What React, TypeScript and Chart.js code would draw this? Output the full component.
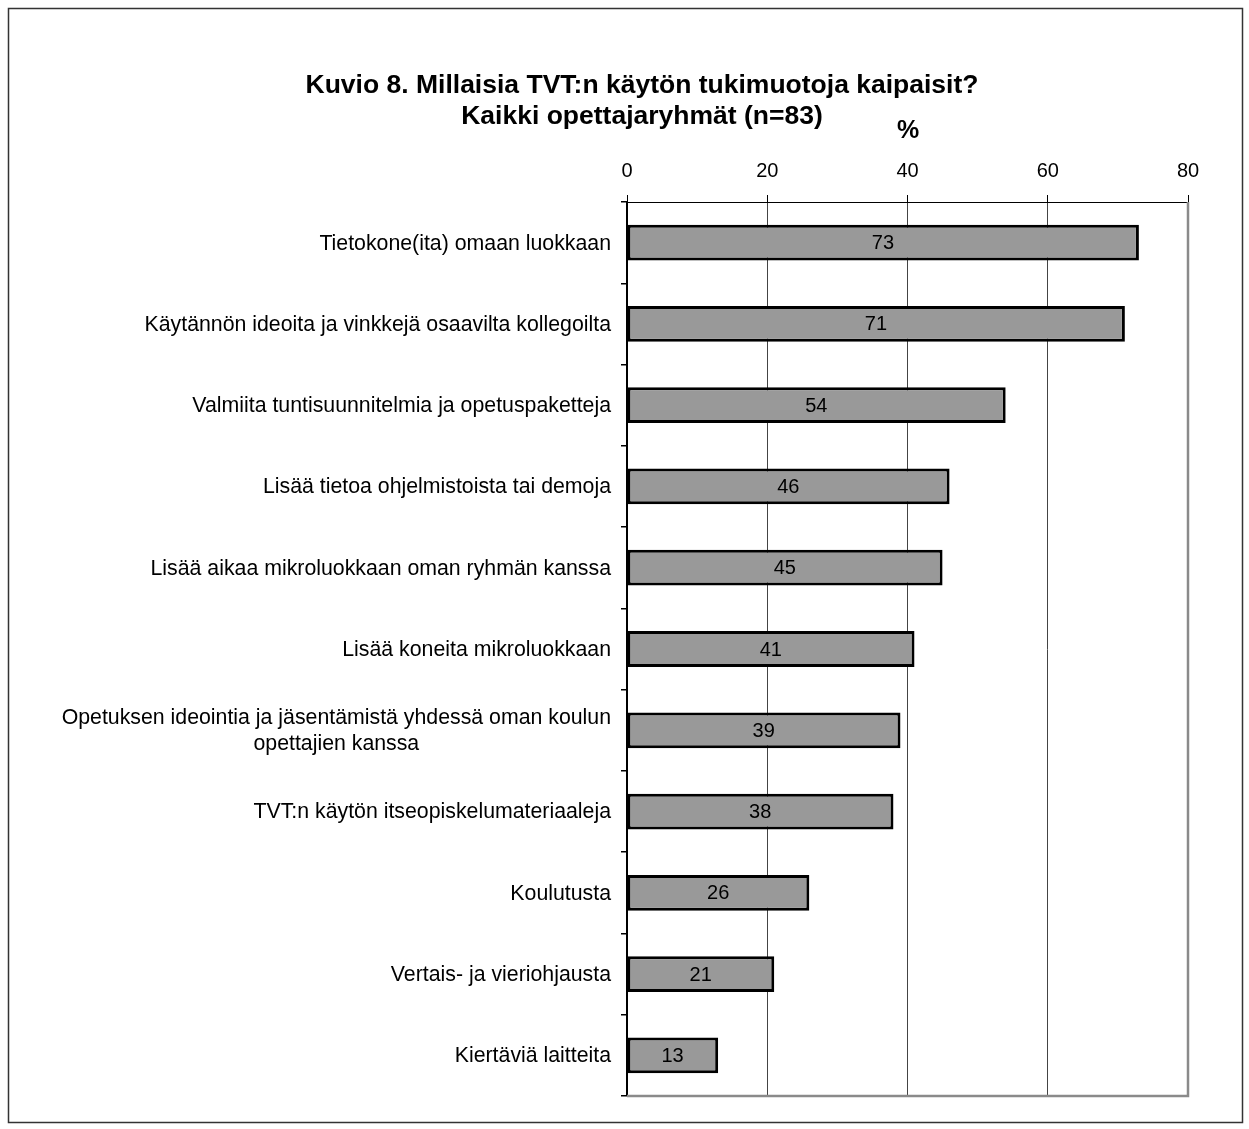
import React, { useEffect, useRef } from 'react';
import { Chart, registerables } from 'chart.js';

Chart.register(...registerables);

const categories: (string | string[])[] = [
  'Tietokone(ita) omaan luokkaan',
  'Käytännön ideoita ja vinkkejä osaavilta kollegoilta',
  'Valmiita tuntisuunnitelmia ja opetuspaketteja',
  'Lisää tietoa ohjelmistoista tai demoja',
  'Lisää aikaa mikroluokkaan oman ryhmän kanssa',
  'Lisää koneita mikroluokkaan',
  ['Opetuksen ideointia ja jäsentämistä yhdessä oman koulun', 'opettajien kanssa'],
  'TVT:n käytön itseopiskelumateriaaleja',
  'Koulutusta',
  'Vertais- ja vieriohjausta',
  'Kiertäviä laitteita',
];

const values: number[] = [73, 71, 54, 46, 45, 41, 39, 38, 26, 21, 13];

const xTicks: number[] = [0, 20, 40, 60, 80];

const titleLines: string[] = [
  'Kuvio 8. Millaisia TVT:n käytön tukimuotoja kaipaisit?',
  'Kaikki opettajaryhmät (n=83)',
];

const axisTitle = '%';

const FONT = "'Liberation Sans', Arial, Helvetica, sans-serif";

export default function App() {
  const ref = useRef<HTMLCanvasElement>(null);

  useEffect(() => {
    const canvas = ref.current;
    if (!canvas) return;

    const decor = {
      id: 'decor',
      afterDatasetsDraw(chart: any) {
        const { ctx, chartArea: a, scales } = chart;
        const x = scales.x;
        const y = scales.y;
        ctx.save();
        // plot frame (right & bottom)
        ctx.strokeStyle = '#8a8a8a';
        ctx.lineWidth = 2.5;
        ctx.beginPath();
        ctx.moveTo(a.left, a.bottom);
        ctx.lineTo(a.right, a.bottom);
        ctx.lineTo(a.right, a.top);
        ctx.stroke();
        // value labels
        ctx.fillStyle = '#000';
        ctx.font = `20px ${FONT}`;
        ctx.textAlign = 'center';
        ctx.textBaseline = 'middle';
        values.forEach((v, i) => {
          const cx = (x.getPixelForValue(0) + x.getPixelForValue(v)) / 2;
          ctx.fillText(String(v), cx, y.getPixelForValue(i) + 1);
        });
        ctx.restore();
      },
      afterDraw(chart: any) {
        const { ctx, chartArea: a, scales } = chart;
        const y = scales.y;
        ctx.save();
        // category labels
        ctx.fillStyle = '#000';
        ctx.font = `21.3px ${FONT}`;
        ctx.textBaseline = 'middle';
        const rightEdge = a.left - 16;
        const lh = 26;
        categories.forEach((c, i) => {
          const lines = Array.isArray(c) ? c : [c];
          const cy = y.getPixelForValue(i);
          if (lines.length === 1) {
            ctx.textAlign = 'right';
            ctx.fillText(lines[0], rightEdge, cy + 1);
          } else {
            const maxW = Math.max(...lines.map((l) => ctx.measureText(l).width));
            const cx = rightEdge - maxW / 2;
            ctx.textAlign = 'center';
            lines.forEach((l, k) => {
              ctx.fillText(l, cx, cy + 1 + (k - (lines.length - 1) / 2) * lh);
            });
          }
        });
        // title
        ctx.font = `bold 26.5px ${FONT}`;
        ctx.textAlign = 'center';
        ctx.fillText(titleLines[0], 642, 86);
        ctx.fillText(titleLines[1], 642, 117);
        // axis title
        ctx.font = `bold 25px ${FONT}`;
        ctx.fillText(axisTitle, 908, 131);
        // outer frame
        ctx.strokeStyle = '#333';
        ctx.lineWidth = 1.5;
        ctx.strokeRect(8.5, 8.5, 1234, 1114);
        ctx.restore();
      },
    };

    const chart = new Chart(canvas, {
      type: 'bar',
      data: {
        labels: categories as any,
        datasets: [
          {
            data: values,
            backgroundColor: '#999999',
            borderColor: '#000000',
            borderWidth: 3,
            borderSkipped: false,
            barPercentage: 0.44,
            categoryPercentage: 1,
          },
        ],
      },
      options: {
        indexAxis: 'y',
        responsive: false,
        maintainAspectRatio: false,
        animation: false,
        devicePixelRatio: 1,
        layout: { padding: { top: 152, right: 61, bottom: 33, left: 0 } },
        plugins: {
          legend: { display: false },
          tooltip: { enabled: false },
          title: { display: false },
        },
        scales: {
          x: {
            type: 'linear',
            position: 'top',
            min: 0,
            max: 80,
            afterBuildTicks(s: any) {
              s.ticks = xTicks.map((v) => ({ value: v }));
            },
            afterFit(s: any) {
              s.height = 50;
            },
            ticks: {
              color: '#000',
              font: { family: FONT, size: 20 },
              padding: 12,
              maxRotation: 0,
            },
            grid: {
              color: '#444',
              lineWidth: 1,
              tickLength: 7,
              tickColor: '#000',
            },
            border: { display: true, color: '#000', width: 1 },
          },
          y: {
            type: 'category',
            position: 'left',
            afterFit(s: any) {
              s.width = 627;
            },
            ticks: { display: false },
            grid: {
              drawOnChartArea: false,
              tickLength: 6,
              color: '#000',
              lineWidth: 1.5,
              offset: true,
            },
            border: { display: true, color: '#000', width: 2 },
          },
        },
      },
      plugins: [decor],
    } as any);

    return () => chart.destroy();
  }, []);

  return (
    <div style={{ position: 'absolute', left: 0, top: 0, width: 1249, height: 1129, background: '#fff' }}>
      <canvas ref={ref} width={1249} height={1129} style={{ display: 'block', width: 1249, height: 1129 }} />
    </div>
  );
}
